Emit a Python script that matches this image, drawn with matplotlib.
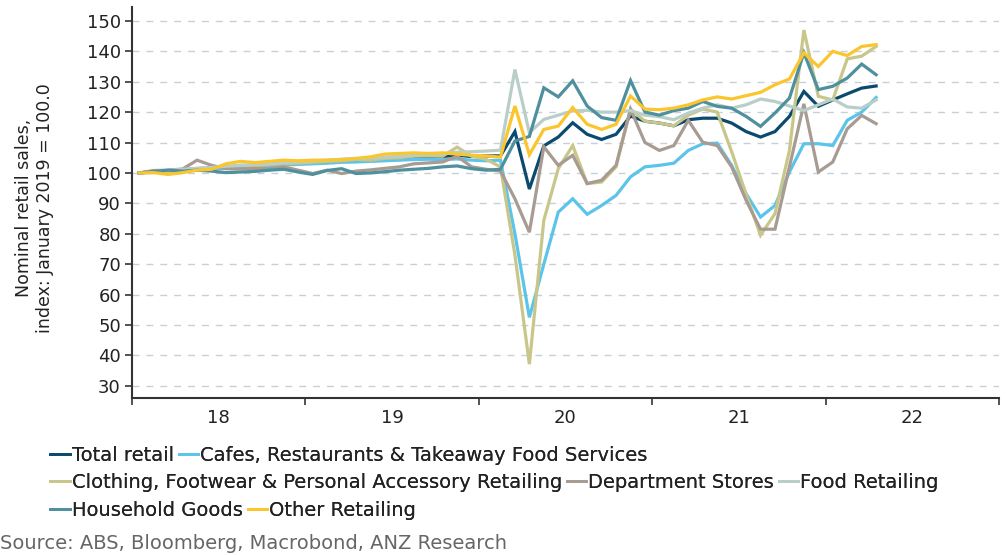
import numpy as np
import matplotlib
matplotlib.use("Agg")
import matplotlib.pyplot as plt
from matplotlib.lines import Line2D

# monthly index, Jan 2018 - Apr 2022
total_retail = [100.0, 100.4, 100.8, 101.0, 101.4, 101.6, 102.0, 102.1, 102.4, 102.6, 102.9, 103.2,
                103.4, 103.5, 103.8, 104.0, 104.2, 104.4, 104.6, 104.8, 105.2, 105.4, 105.8, 105.4,
                105.6, 105.6, 113.6, 94.7, 108.9, 111.8, 116.5, 112.7, 111.0, 112.7, 118.7, 117.0,
                116.4, 115.5, 117.5, 118.0, 118.0, 116.4, 113.6, 111.8, 113.6, 118.6, 126.8, 121.9,
                124.0, 126.0, 127.9, 128.6]
cafes = [100.0, 100.2, 100.5, 100.8, 101.0, 101.3, 101.5, 101.8, 102.0, 102.3, 102.6, 102.8,
         103.0, 103.2, 103.5, 103.6, 103.8, 104.0, 104.2, 104.4, 104.5, 104.4, 104.6, 104.2,
         104.0, 104.2, 80.0, 52.5, 70.0, 87.1, 91.5, 86.4, 89.3, 92.6, 98.7, 102.0,
         102.5, 103.2, 107.4, 109.6, 109.8, 102.5, 93.2, 85.5, 89.3, 100.3, 109.6, 109.6,
         109.0, 117.3, 120.0, 124.8]
clothing = [100.0, 100.6, 100.3, 101.0, 101.5, 101.8, 102.0, 102.5, 102.3, 102.8, 103.0, 103.2,
            103.5, 103.8, 104.0, 104.5, 104.2, 104.8, 105.0, 105.5, 105.6, 105.5, 108.5, 105.5,
            104.5, 102.0, 73.0, 37.1, 84.4, 101.4, 109.0, 96.5, 97.0, 102.0, 121.0, 117.0,
            116.4, 115.5, 119.0, 121.0, 120.0, 107.0, 93.0, 79.5, 86.6, 107.4, 147.0, 125.2,
            124.0, 137.5, 138.4, 141.6]
dept_stores = [100.0, 100.8, 100.9, 101.3, 104.2, 102.5, 101.4, 101.3, 101.5, 101.4, 102.0, 100.9,
               99.8, 100.9, 99.8, 100.6, 101.0, 101.5, 102.0, 103.0, 103.3, 103.6, 105.5, 102.0,
               101.2, 100.6, 91.5, 80.5, 108.6, 102.5, 105.8, 96.5, 97.6, 102.5, 121.0, 110.0,
               107.4, 109.0, 117.3, 110.1, 109.0, 102.0, 91.0, 81.5, 81.5, 102.0, 122.7, 100.3,
               103.6, 114.5, 118.9, 116.2]
food = [100.0, 100.5, 100.8, 101.2, 101.5, 101.8, 102.2, 102.5, 102.8, 103.0, 103.4, 103.6,
        104.0, 104.2, 104.5, 104.8, 105.0, 105.2, 105.5, 105.8, 106.0, 106.3, 106.8, 107.0,
        107.2, 107.5, 134.0, 113.2, 117.6, 119.0, 120.4, 120.6, 120.0, 120.0, 120.5, 119.0,
        118.5, 117.5, 119.7, 121.3, 122.4, 121.3, 122.4, 124.3, 123.5, 122.0, 120.5, 122.4,
        124.3, 121.7, 121.3, 124.0]
household = [100.0, 100.5, 100.9, 100.6, 100.9, 100.6, 100.1, 100.3, 100.5, 100.9, 101.2, 100.3,
             99.5, 100.8, 101.4, 99.8, 100.0, 100.4, 100.9, 101.2, 101.5, 102.0, 102.3, 101.4,
             100.9, 101.2, 110.5, 112.0, 128.0, 125.0, 130.3, 122.0, 118.2, 117.3, 130.4, 120.0,
             119.0, 120.5, 121.3, 123.5, 121.9, 121.3, 118.6, 115.3, 119.7, 124.6, 139.5, 127.4,
             128.5, 131.2, 135.8, 132.3]
other = [100.0, 100.1, 99.5, 100.1, 100.9, 101.2, 103.0, 103.8, 103.4, 103.8, 104.2, 104.0,
         104.2, 104.2, 104.4, 104.7, 105.3, 106.2, 106.4, 106.6, 106.4, 106.6, 106.2, 105.8,
         105.6, 105.2, 122.0, 106.0, 114.3, 115.4, 121.5, 116.0, 114.3, 116.0, 125.3, 121.0,
         120.8, 121.3, 122.4, 124.0, 125.0, 124.3, 125.4, 126.5, 129.0, 130.9, 139.5, 135.0,
         140.0, 138.6, 141.6, 142.2]

series_names = ["Total retail", "Cafes, Restaurants & Takeaway Food Services",
                "Clothing, Footwear & Personal Accessory Retailing", "Department Stores",
                "Food Retailing", "Household Goods", "Other Retailing"]
series_data = [total_retail, cafes, clothing, dept_stores, food, household, other]
colors = ["#0b4a6f", "#5cc4ea", "#c9c68a", "#a89b92", "#b9cec8", "#4f909e", "#fbc52d"]
year_labels = ["18", "19", "20", "21", "22"]

x = np.arange(len(total_retail)) + 0.5

fig = plt.figure(figsize=(10.08, 5.55), dpi=100)
ax = fig.add_axes([0.131, 0.283, 0.86, 0.704])

for vals, c, name in zip(series_data, colors, series_names):
    ax.plot(x, vals, color=c, lw=2.3, label=name, solid_joinstyle="miter")

ax.set_xlim(0, 60)
ax.set_ylim(26, 154.5)
ax.set_yticks(np.arange(30, 151, 10))
ax.set_xticks(np.arange(0, 61, 12))
ax.set_xticklabels([])
ax.set_xticks(np.arange(6, 60, 12), minor=True)
ax.set_xticklabels(year_labels, minor=True)
ax.tick_params(axis="x", which="minor", length=0, pad=8, labelsize=13, colors="#222222")
ax.tick_params(axis="x", which="major", length=5, width=1.2, color="#333333")
ax.tick_params(axis="y", length=5, width=1.2, color="#333333", labelsize=13,
               labelcolor="#222222", pad=3)

ax.yaxis.grid(True, color="#c5d0d8", ls=(0, (5, 5)), lw=1.0)
ax.set_axisbelow(True)
for s in ["top", "right"]:
    ax.spines[s].set_visible(False)
for s in ["left", "bottom"]:
    ax.spines[s].set_color("#333333")
    ax.spines[s].set_linewidth(1.5)

fig.text(0.034, 0.625, "Nominal retail sales,\nindex: January 2019 = 100.0", rotation=90,
         ha="center", va="center", fontsize=12.5, color="#222222", linespacing=1.25)

# legend rows flow like the original
handles = [Line2D([], [], color=c, lw=2.0) for c in colors]
rows = [[0, 1], [2, 3, 4], [5, 6]]
row_y = [0.18, 0.131, 0.081]
for r, yy in zip(rows, row_y):
    leg = fig.legend([handles[i] for i in r], [series_names[i] for i in r],
                     loc="center left", bbox_to_anchor=(0.05, yy), ncol=len(r),
                     frameon=False, fontsize=14, handlelength=1.0, handletextpad=0.1,
                     columnspacing=0.25, borderpad=0, borderaxespad=0)
    for t in leg.get_texts():
        t.set_color("#222222")
    fig.add_artist(leg)

fig.text(0.0, 0.02, "Source: ABS, Bloomberg, Macrobond, ANZ Research", fontsize=14,
         color="#666666", ha="left", va="center")

fig.savefig("out.png", dpi=100)
